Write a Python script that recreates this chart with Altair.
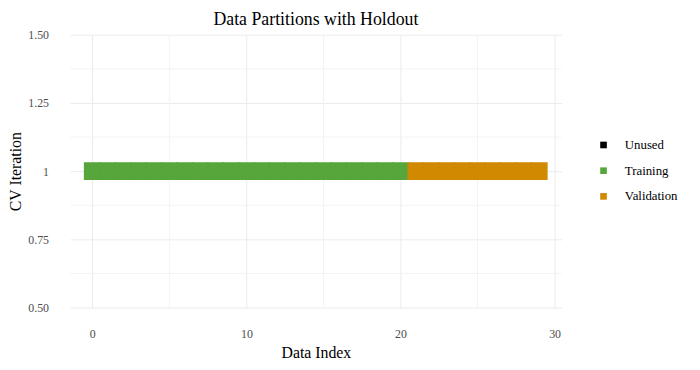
import altair as alt
import pandas as pd

# ---- data ----
data_index = list(range(30))
roles = (["Training"] * 21) + (["Validation"] * 9)
iteration = [1] * 30

legend_domain = ["Unused", "Training", "Validation"]
legend_colors = ["#000000", "#56A63B", "#D08900"]

x_major = [0, 10, 20, 30]
x_minor = [5, 15, 25]
y_major = [0.5, 0.75, 1.0, 1.25, 1.5]
y_minor = [0.625, 0.875, 1.125, 1.375]

df = pd.DataFrame({"idx": data_index, "role": roles, "iter": iteration})
df_xminor = pd.DataFrame({"v": x_minor})
df_yminor = pd.DataFrame({"v": y_minor})

FONT = "Liberation Serif"

xscale = alt.Scale(domain=[-1.43, 30.45], nice=False, zero=False)
yscale = alt.Scale(domain=[0.5, 1.5], nice=False, zero=False)

minor_x = alt.Chart(df_xminor).mark_rule(color="#f3f3f3", strokeWidth=1).encode(
    x=alt.X("v:Q", scale=xscale)
)
minor_y = alt.Chart(df_yminor).mark_rule(color="#f3f3f3", strokeWidth=1).encode(
    y=alt.Y("v:Q", scale=yscale)
)

tiles = (
    alt.Chart(df)
    .transform_calculate(
        x0="datum.idx - 0.5",
        x1="datum.idx + 0.5",
        y0="datum.iter - 0.03",
        y1="datum.iter + 0.03",
    )
    .mark_rect(strokeWidth=1.5)
    .encode(
        x=alt.X(
            "x0:Q",
            scale=xscale,
            title="Data Index",
            axis=alt.Axis(
                values=x_major,
                format="d",
                titleX=248.5,
                titleY=51,
                titleBaseline="alphabetic",
                titleAlign="center",
            ),
        ),
        x2="x1:Q",
        y=alt.Y(
            "y0:Q",
            scale=yscale,
            title="CV Iteration",
            axis=alt.Axis(
                values=y_major,
                labelExpr="datum.value == 1 ? '1' : format(datum.value, '.2f')",
                titleX=-50,
                titleY=138,
                titleBaseline="alphabetic",
                titleAlign="center",
                titleAngle=270,
            ),
        ),
        y2="y1:Q",
        color=alt.Color(
            "role:N",
            scale=alt.Scale(domain=legend_domain, range=legend_colors),
            legend=alt.Legend(title=None, orient="none", legendX=533, legendY=105),
        ),
        stroke=alt.Stroke(
            "role:N",
            scale=alt.Scale(domain=legend_domain, range=legend_colors),
            legend=None,
        ),
    )
)

chart = (
    alt.layer(minor_x, minor_y, tiles)
    .properties(
        width=497,
        height=276,
        autosize="none",
        padding={"left": 63, "top": 25, "right": 132, "bottom": 54},
        title=alt.TitleParams(
            "Data Partitions with Holdout",
            font=FONT,
            fontSize=18,
            fontWeight="normal",
            color="#000000",
            anchor="middle",
            offset=0,
        ),
    )
    .configure_view(stroke=None)
    .configure_axis(
        domain=False,
        ticks=False,
        grid=True,
        gridColor="#ebebeb",
        gridWidth=1,
        labelFont=FONT,
        labelFontSize=12,
        labelColor="#4d4d4d",
        titleFont=FONT,
        titleFontSize=16,
        titleFontWeight="normal",
        titleColor="#000000",
    )
    .configure_axisX(labelPadding=21)
    .configure_axisY(labelPadding=22)
    .configure_legend(
        labelFont=FONT,
        labelFontSize=13,
        labelColor="#000000",
        symbolType="square",
        symbolSize=45,
        symbolStrokeWidth=0,
        rowPadding=12,
        labelOffset=15,
        padding=0,
    )
)

chart.save("out.html", embed_options={"renderer": "svg", "actions": False})
